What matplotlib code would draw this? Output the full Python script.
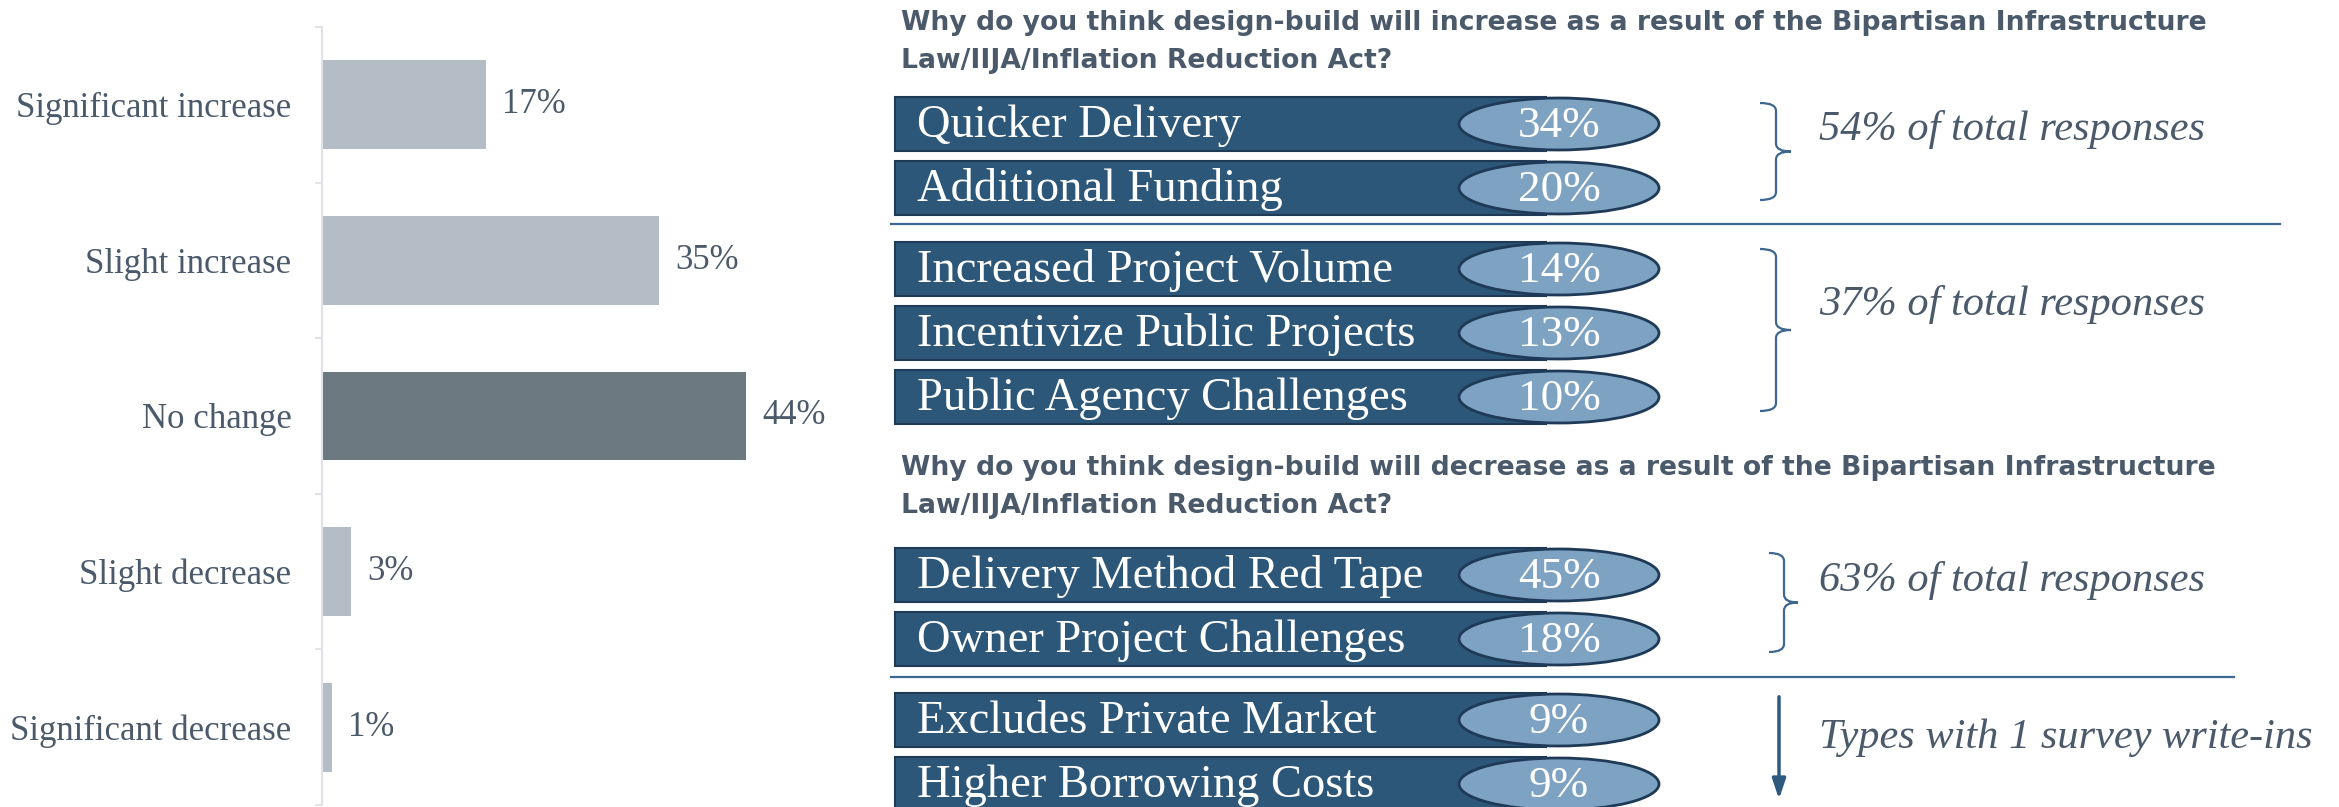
import matplotlib
matplotlib.use("Agg")
import matplotlib.pyplot as plt
from matplotlib.patches import Rectangle, Ellipse, PathPatch
from matplotlib.path import Path

# ---------------- data ----------------
categories = ["Significant increase", "Slight increase", "No change",
              "Slight decrease", "Significant decrease"]
values = [17, 35, 44, 3, 1]
highlight = "No change"

inc_title = ["Why do you think design-build will increase as a result of the Bipartisan Infrastructure",
             "Law/IIJA/Inflation Reduction Act?"]
inc_reasons = ["Quicker Delivery", "Additional Funding", "Increased Project Volume",
               "Incentivize Public Projects", "Public Agency Challenges"]
inc_pcts = [34, 20, 14, 13, 10]
inc_notes = ["54% of total responses", "37% of total responses"]

dec_title = ["Why do you think design-build will decrease as a result of the Bipartisan Infrastructure",
             "Law/IIJA/Inflation Reduction Act?"]
dec_reasons = ["Delivery Method Red Tape", "Owner Project Challenges",
               "Excludes Private Market", "Higher Borrowing Costs"]
dec_pcts = [45, 18, 9, 9]
dec_notes = ["63% of total responses", "Types with 1 survey write-ins"]

# ---------------- style ----------------
W, H = 2339, 807
TEXT = "#4a5a6b"
BAR_LIGHT = "#b4bdc5"
BAR_DARK = "#6d7981"
BOX = "#2d5778"
BOX_EDGE = "#1e3a57"
ELL = "#7ea2c2"
LINE = "#3d6790"
SERIF = "Liberation Serif"
SANS = "DejaVu Sans"

fig = plt.figure(figsize=(W / 100, H / 100), dpi=100)

# ---------------- left bar chart ----------------
ax = fig.add_axes([322 / W, 2 / H, 481.5 / W, 778 / H])
ypos = list(range(len(categories)))
colors = [BAR_DARK if c == highlight else BAR_LIGHT for c in categories]
ax.barh(ypos, values, height=0.57, color=colors)
ax.set_xlim(0, 50)
ax.set_ylim(len(categories) - 0.5, -0.5)
ax.set_yticks(ypos)
ax.set_yticklabels(categories, fontsize=25, family=SERIF, color=TEXT)
ax.tick_params(axis="y", which="major", length=0, pad=22)
ax.set_yticks([i - 0.5 for i in range(len(categories) + 1)], minor=True)
ax.tick_params(axis="y", which="minor", length=5, color="#dfe3e8", width=1.5)
ax.set_xticks([])
for s in ["top", "right", "bottom"]:
    ax.spines[s].set_visible(False)
ax.spines["left"].set_color("#dfe3e8")
ax.spines["left"].set_linewidth(1.5)
for i, v in enumerate(values):
    ax.annotate(f"{v}%", (v, i), xytext=(12, 0), textcoords="offset points",
                va="center", ha="left", fontsize=25, family=SERIF, color=TEXT)

# ---------------- right panel ----------------
ov = fig.add_axes([0, 0, 1, 1])
ov.set_xlim(0, W)
ov.set_ylim(H, 0)
ov.axis("off")

def title(lines, base):
    for k, line in enumerate(lines):
        ov.text(901, base + 38 * k, line, fontsize=19.2, fontweight="bold",
                family=SANS, color=TEXT, va="baseline", ha="left")

def rows(reasons, pcts, top0):
    tops = []
    for i, (r, p) in enumerate(zip(reasons, pcts)):
        top = top0 + 64 * i + (17 if i >= 2 else 0)
        tops.append(top)
        ov.add_patch(Rectangle((895, top), 651, 54, fc=BOX, ec=BOX_EDGE, lw=1.5, zorder=2))
        ov.add_patch(Ellipse((1559, top + 27), 200, 52, fc=ELL, ec=BOX_EDGE, lw=2, zorder=3))
        ov.text(917, top + 40, r, fontsize=33.5, family=SERIF, color="white",
                va="baseline", ha="left", zorder=4)
        ov.text(1559, top + 40, f"{p}%", fontsize=32.5, family=SERIF, color="white",
                va="baseline", ha="center", zorder=4)
    return tops

def brace(x0, xv, xt, top, bot, r=8):
    mid = (top + bot) / 2
    verts = [(x0, top), (xv, top), (xv, top + r), (xv, mid - r), (xv, mid), (xt, mid),
             (xv, mid), (xv, mid + r), (xv, bot - r), (xv, bot), (x0, bot)]
    codes = [Path.MOVETO, Path.CURVE3, Path.CURVE3, Path.LINETO, Path.CURVE3, Path.CURVE3,
             Path.CURVE3, Path.CURVE3, Path.LINETO, Path.CURVE3, Path.CURVE3]
    ov.add_patch(PathPatch(Path(verts, codes), fc="none", ec=LINE, lw=1.6))

def note(txt, base):
    ov.text(1819, base, txt, fontsize=30.5, family=SERIF, style="italic",
            color=TEXT, va="baseline", ha="left")

title(inc_title, 30)
rows(inc_reasons, inc_pcts, 97)
ov.plot([891, 2280], [224, 224], color=LINE, lw=1.6)
brace(1760, 1776, 1791, 103, 200)
brace(1760, 1776, 1791, 249, 411)
note(inc_notes[0], 140)
note(inc_notes[1], 315)

title(dec_title, 475)
rows(dec_reasons, dec_pcts, 548)
ov.plot([891, 2234], [677, 677], color=LINE, lw=1.6)
brace(1769, 1784, 1798, 553, 652)
note(dec_notes[0], 591)
ov.annotate("", xy=(1779, 802), xytext=(1779, 694),
            arrowprops=dict(arrowstyle="-|>,head_length=1.2,head_width=0.4",
                            color="#2f5a80", lw=2.5))
note(dec_notes[1], 748)

fig.savefig("out.png", dpi=100)
